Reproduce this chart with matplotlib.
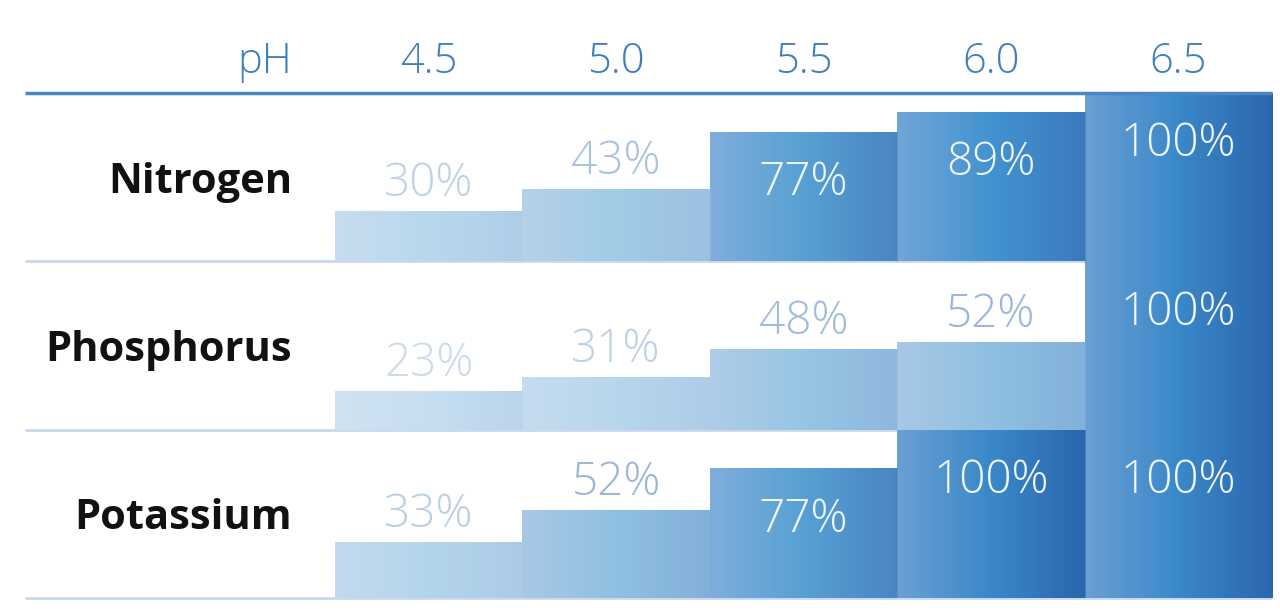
import numpy as np
import matplotlib
matplotlib.use("Agg")
import matplotlib.pyplot as plt
from matplotlib.colors import to_rgb

# ---- data ----
ph_levels = ["4.5", "5.0", "5.5", "6.0", "6.5"]
nutrients = ["Nitrogen", "Phosphorus", "Potassium"]
nitrogen = [30, 43, 77, 89, 100]
phosphorus = [23, 31, 48, 52, 100]
potassium = [33, 52, 77, 100, 100]
values = [nitrogen, phosphorus, potassium]

FONT = "Open Sans"
W, H = 1280, 615
fig = plt.figure(figsize=(W / 100, H / 100), dpi=100)
fig.patch.set_facecolor("white")

# axes covers bar area: x 335..1272 px, y 93..598 px
ax = fig.add_axes([335 / W, 1 - 598 / H, (1272 - 335) / W, (598 - 93) / H])
ax.set_axis_off()

# colour scale: value -> (left, middle, right) gradient stops
scale_vals = [23, 43, 52, 77, 89, 100]
scale_cols = [
    ("#d0e2f2", "#c6def0", "#bad4ec"),
    ("#b7d1ea", "#a0cce6", "#9dc0e2"),
    ("#a9c8e6", "#8fc0e1", "#83b0d9"),
    ("#80aedc", "#57a0d3", "#4a85c3"),
    ("#72a5d8", "#4393cf", "#3b7abf"),
    ("#6aa0d5", "#3a88c9", "#2b66ad"),
]
scale_rgb = np.array([[to_rgb(c) for c in trip] for trip in scale_cols])  # (n,3,3)
lab_low = np.array(to_rgb("#cbdbeb"))
lab_high = np.array(to_rgb("#98b6d7"))


def grad_stops(v):
    return [tuple(np.interp(v, scale_vals, scale_rgb[:, s, c]) for c in range(3))
            for s in range(3)]


n_rows = len(nutrients)
x = np.arange(len(ph_levels))
px_per_x = (1272 - 335) / len(ph_levels)
px_per_y = (598 - 93) / n_rows

# separator lines (behind bars)
x_left = (25 - 335) / px_per_x
for r in range(n_rows):
    yb = n_rows - 1 - r
    ax.plot([x_left, len(ph_levels)], [yb, yb], color="#c9d8ec", lw=2,
            clip_on=False, zorder=0, solid_capstyle="butt")

for r, (name, vals) in enumerate(zip(nutrients, values)):
    bottom = n_rows - 1 - r
    bars = ax.bar(x, np.array(vals) / 100.0, width=1.0, bottom=bottom,
                  align="edge", color="none", edgecolor="none", zorder=2)
    for b, v in zip(bars, vals):
        x0, y0 = b.get_x(), b.get_y()
        x1, y1 = x0 + b.get_width(), y0 + b.get_height()
        stops = grad_stops(v)
        pos = np.linspace(0, 1, 200)
        img = np.zeros((1, 200, 3))
        for c in range(3):
            img[0, :, c] = np.interp(pos, [0, 0.5, 1], [s[c] for s in stops])
        im = ax.imshow(img, extent=[x0, x1, y0, y1], aspect="auto",
                       interpolation="bilinear", zorder=2)
        im.set_clip_path(b)
        # thin edge
        ax.plot([x1, x1], [y0, y1], color=stops[2], lw=0.8, alpha=0.5, zorder=3)
        xc = x0 + 0.5
        if v >= 70:
            ax.annotate(f"{v}%", (xc, y1), xytext=(0, -37), textcoords="offset points",
                        ha="center", va="center", fontsize=33, family=FONT,
                        fontweight="light", color="#eef5fb", zorder=4)
        else:
            t = np.clip((v - 23) / 30.0, 0, 1)
            col = tuple((1 - t) * lab_low + t * lab_high)
            ax.annotate(f"{v}%", (xc, y1), xytext=(0, 19.5), textcoords="offset points",
                        ha="center", va="center", fontsize=33, family=FONT,
                        fontweight="light", color=col, zorder=4)
    # row label
    ax.text((292 - 335) / px_per_x, bottom + 0.5 - 5 / px_per_y, name,
            ha="right", va="center", fontsize=30, fontweight="bold",
            family=FONT, color="#111111")

# header line
ax.plot([x_left, len(ph_levels)], [n_rows, n_rows], color="#4a86c0", lw=2.5,
        clip_on=False, zorder=5, solid_capstyle="butt")

# header labels
y_head = n_rows + (93 - 62) / px_per_y
ax.text((292 - 335) / px_per_x, y_head, "pH", ha="right", va="center",
        fontsize=30, family=FONT, fontweight="light", color="#3f7fc0")
for i, lab in enumerate(ph_levels):
    ax.text(i + 0.5, y_head, lab, ha="center", va="center",
            fontsize=30, family=FONT, fontweight="light", color="#3f7fc0")

ax.set_xlim(0, len(ph_levels))
ax.set_ylim(0, n_rows)

fig.savefig("out.png", dpi=100, facecolor="white")
